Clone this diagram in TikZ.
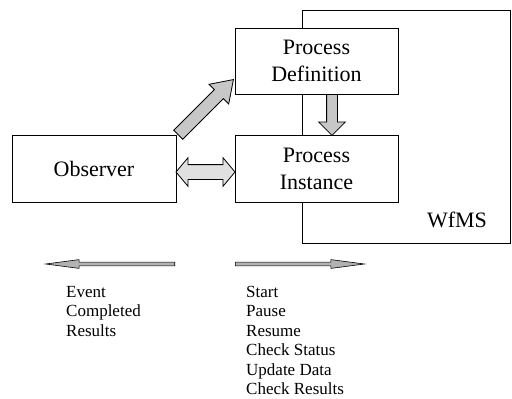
\documentclass[tikz,border=0pt]{standalone}
\usepackage{fontspec}
\setmainfont{Liberation Serif}
\usetikzlibrary{shapes.arrows,calc}
\begin{document}
\begin{tikzpicture}[x=1pt,y=-1pt,
  box/.style={draw, line width=0.9pt, fill=white, inner sep=0pt, align=center,
    font=\fontsize{22}{27}\selectfont},
  blk/.style={single arrow, draw, line width=0.8pt, fill=black!22, inner xsep=0pt, anchor=tail},
  dblk/.style={double arrow, draw, line width=0.8pt, fill=black!12, inner xsep=0pt},
  thin arr/.style={single arrow, draw, line width=0.6pt, fill=black!30, inner xsep=0pt,
    inner ysep=1.6pt, minimum height=129pt, single arrow head extend=2.5pt,
    single arrow tip angle=15, anchor=tail},
  lst/.style={anchor=base west, inner sep=0pt, align=left,
    font=\fontsize{17}{19.5}\selectfont}]
\useasboundingbox (0,0) rectangle (512,399);
% WfMS frame
\node[draw, line width=0.9pt, minimum width=208pt, minimum height=233pt, inner sep=0pt]
  (wfms) at (406,126.5) {};
\node[inner sep=0pt, font=\fontsize{22}{27}\selectfont] (wlab) at (457,220) {WfMS};
% boxes
\node[box, minimum width=164pt, minimum height=67pt] (obs) at (94,168.5) {Observer};
\node[box, minimum width=163pt, minimum height=66pt] (pd) at (316.5,61) {Process\\Definition};
\node[box, minimum width=163pt, minimum height=67pt] (pi) at (316.5,168.5) {Process\\Instance};
% block arrows
\node[blk, rotate=45, minimum height=78pt, inner ysep=6pt,
  single arrow head extend=7.5pt, single arrow tip angle=68] (a1) at (178,135) {};
\node[blk, rotate=-90, minimum height=41pt, inner ysep=5pt,
  single arrow head extend=8pt, single arrow tip angle=90] (a2) at (332,94) {};
\node[dblk, minimum height=59pt, inner ysep=7pt,
  double arrow head extend=7pt, double arrow tip angle=100] (a3) at (205.5,172) {};
% bottom arrows
\node[thin arr, rotate=180] (b1) at (175,264) {};
\node[thin arr] (b2) at (235,264) {};
% lists
\node[lst] (l1) at (66,336) {Event\\Completed\\Results};
\node[lst] (l2) at (246,394.5) {Start\\Pause\\Resume\\Check Status\\Update Data\\Check Results};
\end{tikzpicture}
\end{document}
